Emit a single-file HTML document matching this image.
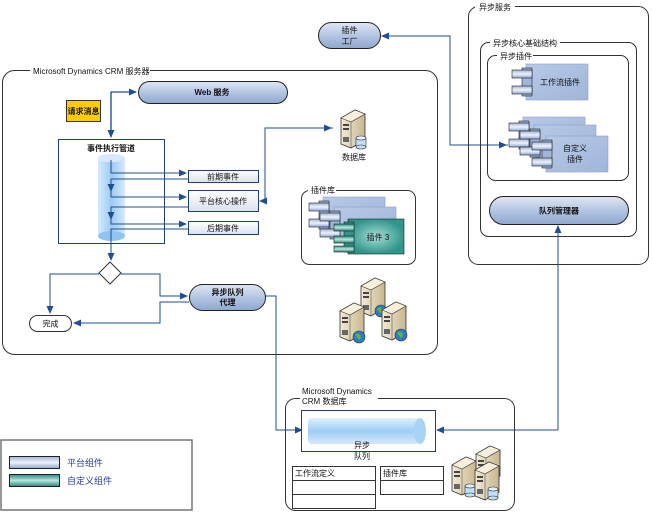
<!DOCTYPE html>
<html><head><meta charset="utf-8"><style>
html,body{margin:0;padding:0;background:#fff;width:652px;height:512px;overflow:hidden}
svg text{font-family:"Liberation Sans","Noto Sans CJK SC",sans-serif;font-size:8px;fill:#111}
</style></head><body>
<svg width="652" height="512" viewBox="0 0 652 512" xmlns="http://www.w3.org/2000/svg">
<defs>
<linearGradient id="pill" x1="0" y1="0" x2="0" y2="1"><stop offset="0" stop-color="#dfe7f4"/><stop offset="0.5" stop-color="#b3c5e2"/><stop offset="1" stop-color="#8ea7d0"/></linearGradient>
<linearGradient id="comp" x1="0" y1="0" x2="1" y2="1"><stop offset="0" stop-color="#b8c9e6"/><stop offset="1" stop-color="#9fb5da"/></linearGradient>
<linearGradient id="bar" x1="0" y1="0" x2="0" y2="1"><stop offset="0" stop-color="#9fb3d8"/><stop offset="0.5" stop-color="#eef2fa"/><stop offset="1" stop-color="#8ea6d2"/></linearGradient>
<linearGradient id="tbar" x1="0" y1="0" x2="0" y2="1"><stop offset="0" stop-color="#2d8a80"/><stop offset="0.5" stop-color="#b8e6e0"/><stop offset="1" stop-color="#2b8379"/></linearGradient>
<radialGradient id="teal"><stop offset="0" stop-color="#a8dcd6"/><stop offset="1" stop-color="#2f968b"/></radialGradient>
<linearGradient id="cylv" x1="0" y1="0" x2="1" y2="0"><stop offset="0" stop-color="#d7e9fb"/><stop offset="0.5" stop-color="#9ccaf3"/><stop offset="1" stop-color="#d7e9fb"/></linearGradient>
<linearGradient id="cylh" x1="0" y1="0" x2="0" y2="1"><stop offset="0" stop-color="#e0effc"/><stop offset="0.5" stop-color="#9fcdf5"/><stop offset="1" stop-color="#d5e8fa"/></linearGradient>
<linearGradient id="box" x1="0" y1="0" x2="0" y2="1"><stop offset="0" stop-color="#fff"/><stop offset="1" stop-color="#d9e1ee"/></linearGradient>
<linearGradient id="srv" x1="0" y1="0" x2="1" y2="0"><stop offset="0" stop-color="#f3ead4"/><stop offset="1" stop-color="#c8b68f"/></linearGradient>
<marker id="ar" markerWidth="8" markerHeight="8" refX="7" refY="4" orient="auto" markerUnits="userSpaceOnUse"><path d="M0,0.5 L8,4 L0,7.5 z" fill="#1f4f8f"/></marker>
<g id="server">
<path d="M0,8 L14,0 L24,4 L24,30 L10,38 L0,34 z" fill="url(#srv)" stroke="#333" stroke-width="0.8"/>
<path d="M0,8 L14,0 L24,4 L10,12 z" fill="#f6efdc" stroke="#333" stroke-width="0.6"/>
<path d="M10,12 L10,38" stroke="#555" stroke-width="0.6"/>
<rect x="2" y="14" width="6" height="2" fill="#444"/><rect x="2" y="18" width="6" height="2" fill="#444"/><rect x="2" y="27" width="6" height="5" fill="#666"/>
</g>
<g id="globe"><circle r="6" fill="#2e7bc4" stroke="#333" stroke-width="0.6"/><path d="M-4,-2 q3,-3 5,0 q2,3 -1,5z" fill="#5bb54a"/></g>
<g id="dbc"><rect x="-5" y="-4" width="10" height="9" fill="#bfe0f8" stroke="#333" stroke-width="0.6"/><ellipse cx="0" cy="-4" rx="5" ry="2" fill="#e3f2fc" stroke="#333" stroke-width="0.6"/><ellipse cx="0" cy="5" rx="5" ry="2" fill="#bfe0f8" stroke="#333" stroke-width="0.6"/></g>
<g id="cmp">
<rect x="14" y="0" width="62" height="36" fill="url(#comp)" stroke="#8aa0c8" stroke-width="0.6"/>
<rect x="10" y="4" width="10" height="28" fill="#9fb5da" stroke="#222" stroke-width="0.6"/>
<rect x="0" y="6" width="20" height="8" fill="url(#bar)" stroke="#222" stroke-width="0.6"/>
<rect x="0" y="22" width="20" height="8" fill="url(#bar)" stroke="#222" stroke-width="0.6"/>
</g>
</defs>

<!-- Main CRM server box -->
<rect x="2.5" y="70.5" width="435" height="284" rx="12" fill="none" stroke="#333"/>
<rect x="30" y="67" width="120" height="8" fill="#fff"/>
<text x="33" y="74">Microsoft Dynamics CRM 服务器</text>

<!-- Web service -->
<rect x="138.5" y="81.5" width="149" height="22" rx="11" fill="url(#pill)" stroke="#222"/>
<text x="212" y="95" text-anchor="middle" font-weight="bold">Web 服务</text>
<rect x="66.5" y="100.5" width="34" height="21" fill="#ffcc00" stroke="#333"/>
<text x="83.5" y="114" text-anchor="middle" font-weight="bold">请求消息</text>
<path d="M111,132 V92 H136" fill="none" stroke="#1f4f8f" stroke-width="1.2" marker-end="url(#ar)"/>
<path d="M111,92 V137" fill="none" stroke="#1f4f8f" stroke-width="1.2" marker-end="url(#ar)"/>

<!-- Pipeline -->
<rect x="58.5" y="139.5" width="106" height="104" fill="#fff" stroke="#1f3f6f"/>
<text x="111" y="151" text-anchor="middle" font-weight="bold">事件执行管道</text>
<rect x="98" y="158" width="27" height="78" fill="url(#cylv)"/>
<ellipse cx="111.5" cy="158" rx="13.5" ry="4" fill="#d7e9fb"/>
<ellipse cx="111.5" cy="236" rx="13.5" ry="5" fill="#8fc4f2"/>
<g fill="none" stroke="#1f4f8f" stroke-width="1">
<path d="M111,160 V173 H186" marker-end="url(#ar)"/>
<path d="M188,179 H111 V191" marker-end="url(#ar)"/>
<path d="M111,188 V197 H186" marker-end="url(#ar)"/>
<path d="M188,207 H111 V219" marker-end="url(#ar)"/>
<path d="M111,216 V224 H186" marker-end="url(#ar)"/>
<path d="M188,229 H111 V260" marker-end="url(#ar)"/>
</g>
<rect x="188.5" y="170.5" width="70" height="12" fill="url(#box)" stroke="#1f3f6f"/>
<text x="223" y="179.5" text-anchor="middle">前期事件</text>
<rect x="188.5" y="190.5" width="70" height="21" fill="url(#box)" stroke="#1f3f6f"/>
<text x="223" y="204" text-anchor="middle">平台核心操作</text>
<rect x="188.5" y="221.5" width="70" height="13" fill="url(#box)" stroke="#1f3f6f"/>
<text x="223" y="231" text-anchor="middle">后期事件</text>
<path d="M333,128 H265 V201 H260" fill="none" stroke="#1f4f8f" stroke-width="1" marker-end="url(#ar)"/>
<path d="M265,128 H331" fill="none" stroke="#1f4f8f" stroke-width="1" marker-end="url(#ar)"/>

<!-- Database icon -->
<use href="#server" x="341" y="110"/>
<use href="#dbc" x="361" y="142"/>
<text x="354" y="160" text-anchor="middle">数据库</text>

<!-- Decision -->
<path d="M110,262 L121,273 L110,284 L99,273 z" fill="#fff" stroke="#333"/>
<g fill="none" stroke="#1f4f8f" stroke-width="1">
<path d="M99,274 H50 V313" marker-end="url(#ar)"/>
<path d="M121,274 H160 V296 H187" marker-end="url(#ar)"/>
<path d="M189,302 H160 V323 H74" marker-end="url(#ar)"/>
<path d="M265,296 H276 V430 H302" marker-end="url(#ar)"/>
</g>
<rect x="29.5" y="315.5" width="42" height="16" rx="8" fill="#fff" stroke="#333"/>
<text x="50.5" y="326.5" text-anchor="middle">完成</text>
<rect x="189.5" y="284.5" width="76" height="26" rx="13" fill="url(#pill)" stroke="#222"/>
<text x="227.5" y="295" text-anchor="middle" font-weight="bold">异步队列</text>
<text x="227.5" y="305" text-anchor="middle" font-weight="bold">代理</text>

<!-- Plugin library -->
<rect x="301.5" y="190.5" width="114" height="74" rx="8" fill="none" stroke="#333"/>
<rect x="308" y="186" width="28" height="8" fill="#fff"/>
<text x="311" y="193">插件库</text>
<use href="#cmp" x="309" y="197" transform="scale(1)" />
<use href="#cmp" x="320" y="207"/>
<g>
<rect x="348" y="219" width="56" height="35" fill="url(#teal)" stroke="#222" stroke-width="0.6"/>
<rect x="344" y="222" width="10" height="30" fill="#2f968b" stroke="#222" stroke-width="0.6"/>
<rect x="334" y="224" width="20" height="7" fill="url(#tbar)" stroke="#222" stroke-width="0.6"/>
<rect x="334" y="236" width="20" height="7" fill="url(#tbar)" stroke="#222" stroke-width="0.6"/>
<rect x="334" y="246" width="20" height="6" fill="url(#tbar)" stroke="#222" stroke-width="0.6"/>
</g>
<text x="378" y="240" text-anchor="middle">插件 3</text>

<!-- server cluster -->
<use href="#server" x="361" y="278"/><use href="#globe" x="381" y="311"/>
<use href="#server" x="340" y="303"/><use href="#globe" x="359" y="337"/>
<use href="#server" x="382" y="302"/><use href="#globe" x="401" y="335"/>

<!-- Plugin factory -->
<rect x="318.5" y="22.5" width="62" height="26" rx="13" fill="url(#pill)" stroke="#222"/>
<text x="349.5" y="33" text-anchor="middle">插件</text>
<text x="349.5" y="44" text-anchor="middle">工厂</text>
<path d="M508,145 H450 V36 H382" fill="none" stroke="#1f4f8f" stroke-width="1" marker-end="url(#ar)"/>
<path d="M450,145 H506" fill="none" stroke="#1f4f8f" stroke-width="1" marker-end="url(#ar)"/>

<!-- Async service -->
<rect x="468.5" y="6.5" width="180" height="258" rx="10" fill="none" stroke="#333"/>
<rect x="475" y="2" width="40" height="8" fill="#fff"/>
<text x="479" y="10">异步服务</text>
<rect x="480.5" y="42.5" width="156" height="194" rx="8" fill="none" stroke="#333"/>
<rect x="490" y="38" width="70" height="8" fill="#fff"/>
<text x="493" y="46">异步核心基础结构</text>
<rect x="487.5" y="55.5" width="141" height="125" rx="8" fill="none" stroke="#333"/>
<rect x="497" y="51" width="36" height="8" fill="#fff"/>
<text x="500" y="59">异步插件</text>
<use href="#cmp" x="512" y="64"/>
<text x="560" y="85" text-anchor="middle">工作流插件</text>
<use href="#cmp" x="509" y="117"/>
<use href="#cmp" x="520" y="125"/>
<use href="#cmp" x="532" y="136"/>
<text x="575" y="151" text-anchor="middle">自定义</text>
<text x="575" y="162" text-anchor="middle">插件</text>
<rect x="489.5" y="196.5" width="139" height="28" rx="14" fill="url(#pill)" stroke="#222"/>
<text x="559" y="213.5" text-anchor="middle" font-weight="bold">队列管理器</text>
<path d="M558,430 V226" fill="none" stroke="#1f4f8f" stroke-width="1" marker-end="url(#ar)"/>
<path d="M558,430 H437" fill="none" stroke="#1f4f8f" stroke-width="1" marker-end="url(#ar)"/>

<!-- CRM DB -->
<rect x="285.5" y="398.5" width="229" height="112" rx="10" fill="none" stroke="#333"/>
<rect x="300" y="386" width="78" height="20" fill="#fff"/>
<text x="302" y="394">Microsoft Dynamics</text>
<text x="302" y="404">CRM 数据库</text>
<rect x="301.5" y="410.5" width="134" height="41" fill="#fff" stroke="#1f3f6f"/>
<rect x="308" y="418" width="112" height="26" rx="4" fill="url(#cylh)"/>
<ellipse cx="420" cy="431" rx="6" ry="13" fill="#a8d2f6"/>
<text x="362" y="448" text-anchor="middle">异步</text>
<text x="362" y="459" text-anchor="middle">队列</text>
<g fill="#fff" stroke="#333">
<rect x="292.5" y="466.5" width="83" height="14"/><rect x="292.5" y="480.5" width="83" height="14"/><rect x="292.5" y="494.5" width="83" height="14"/>
<rect x="380.5" y="466.5" width="63" height="14"/><rect x="380.5" y="480.5" width="63" height="14"/>
</g>
<text x="295" y="476">工作流定义</text>
<text x="383" y="476">插件库</text>
<use href="#server" x="476" y="446"/>
<use href="#server" x="452" y="457"/><use href="#dbc" x="470" y="490"/>
<use href="#server" x="475" y="462"/><use href="#dbc" x="493" y="493"/>

<!-- Legend -->
<rect x="1" y="440" width="191" height="70" fill="#fff" stroke="#777" stroke-width="1.5"/>
<rect x="9.5" y="456.5" width="50" height="12" fill="url(#bar)" stroke="#222"/>
<rect x="9.5" y="474.5" width="50" height="12" fill="url(#tbar)" stroke="#222"/>
<text x="67" y="466" style="fill:#2a3aa0;font-size:9px">平台组件</text>
<text x="67" y="484" style="fill:#2a3aa0;font-size:9px">自定义组件</text>
</svg>
</body></html>
